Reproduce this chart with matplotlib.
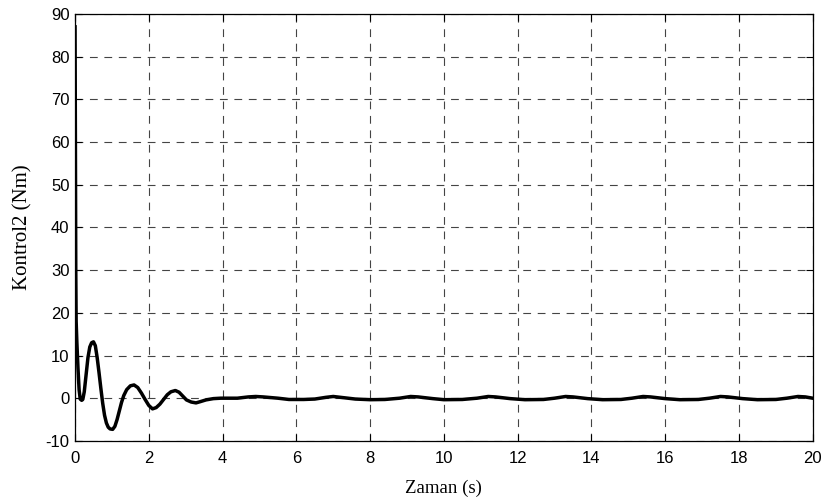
import matplotlib
matplotlib.use("Agg")
import matplotlib.pyplot as plt

plt.rcParams["axes.unicode_minus"] = False

t = [0.00, 0.01, 0.02, 0.03, 0.05, 0.08, 0.11, 0.14, 0.18, 0.21, 0.25, 0.30, 0.35, 0.40,
     0.45, 0.50, 0.55, 0.60, 0.65, 0.70, 0.75, 0.80, 0.85, 0.90, 0.95, 1.02, 1.08, 1.14,
     1.20, 1.26, 1.32, 1.40, 1.50, 1.60, 1.70, 1.80, 1.90, 2.00, 2.10, 2.20, 2.30, 2.40,
     2.50, 2.60, 2.72, 2.82, 2.92, 3.02, 3.15, 3.28, 3.40, 3.55, 3.75, 3.95,
     4.4, 4.7, 4.9, 5.1, 5.5, 5.8, 6.2, 6.5, 6.8, 7.0, 7.2, 7.6, 8.0,
     8.4, 8.8, 9.1, 9.3, 9.7, 10.0, 10.5, 10.9, 11.2, 11.4, 11.8, 12.2, 12.7, 13.0, 13.3,
     13.5, 13.9, 14.3, 14.8, 15.1, 15.4, 15.6, 16.0, 16.4, 16.9, 17.2, 17.5, 17.7, 18.1,
     18.5, 19.0, 19.3, 19.6, 19.8, 20.0]
u = [87, 60, 30, 18, 13, 7, 2, -0.2, -0.5, -0.3, 1.5, 5.5, 9.5, 12,
     13, 13.2, 12.3, 9.5, 6, 2.3, -1.2, -4, -5.8, -6.8, -7.2, -7.3, -6.6, -5,
     -3, -1, 0.6, 2.0, 2.9, 3.1, 2.5, 1.2, -0.3, -1.7, -2.5, -2.2, -1.4, -0.3,
     0.8, 1.5, 1.8, 1.4, 0.5, -0.4, -0.9, -1.1, -0.8, -0.4, -0.1, 0.0,
     0.0, 0.3, 0.4, 0.3, 0.0, -0.3, -0.3, -0.2, 0.2, 0.4, 0.2, -0.2, -0.35,
     -0.3, 0.0, 0.4, 0.3, -0.1, -0.35, -0.3, 0.0, 0.4, 0.3, -0.1, -0.35, -0.3, 0.0, 0.4,
     0.3, -0.1, -0.35, -0.3, 0.0, 0.4, 0.3, -0.1, -0.35, -0.3, 0.0, 0.4, 0.3, -0.1,
     -0.35, -0.3, 0.0, 0.4, 0.3, 0.0]

xticks = list(range(0, 21, 2))
yticks = list(range(-10, 91, 10))

fig = plt.figure(figsize=(8.31, 5.01), dpi=100)
ax = fig.add_axes([0.0903, 0.120, 0.978 - 0.0903, 0.972 - 0.120])
ax.plot(t, u, color="black", linewidth=2.5)
ax.set_xlim(0, 20)
ax.set_ylim(-10, 90)
ax.set_xticks(xticks)
ax.set_yticks(yticks)
ax.grid(True, color="#444444", linestyle=(0, (7, 6)), linewidth=0.8)
ax.tick_params(direction="in", top=True, right=True, length=5, labelsize=12)
ax.tick_params(axis="x", pad=7)
ax.tick_params(axis="y", pad=4)
for lab in ax.get_xticklabels() + ax.get_yticklabels():
    lab.set_family("Liberation Sans")
for s in ax.spines.values():
    s.set_linewidth(0.9)
ax.set_xlabel("Zaman (s)", family="Liberation Serif", fontsize=13.5, labelpad=10)
ax.set_ylabel("Kontrol2 (Nm)", family="Liberation Serif", fontsize=15, labelpad=9)
fig.savefig("out.png", dpi=100)
